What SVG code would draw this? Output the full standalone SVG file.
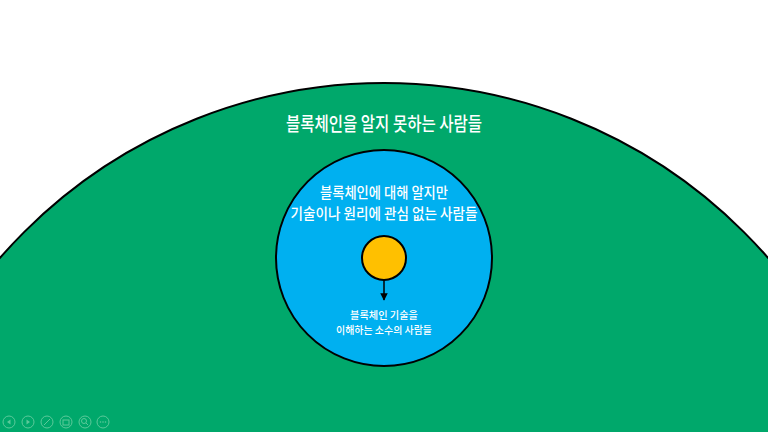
<svg xmlns="http://www.w3.org/2000/svg" width="768" height="432" viewBox="0 0 768 432">
<style>
.t{font-family:"Noto Sans CJK KR","Noto Sans",sans-serif;fill:#ffffff;text-anchor:middle;font-weight:500}
.ic{fill:none;stroke:#5cc99a;stroke-width:1}
</style>
<defs>
<marker id="ah" viewBox="0 0 10 10" refX="9" refY="5" markerWidth="5" markerHeight="5" orient="auto" markerUnits="strokeWidth">
<path d="M0,0 L10,5 L0,10 z" fill="#000"/>
</marker>
</defs>
<rect width="768" height="432" fill="#ffffff"/>
<g id="outer">
<circle cx="384" cy="592" r="509" fill="#00A86B" stroke="#000" stroke-width="2"/>
<text class="t" x="384" y="131" font-size="19" textLength="196" lengthAdjust="spacingAndGlyphs">블록체인을 알지 못하는 사람들</text>
</g>
<g id="middle">
<circle cx="384" cy="258" r="108" fill="#00B0F0" stroke="#000" stroke-width="2"/>
<text class="t" x="384" y="198" font-size="14.5" textLength="128" lengthAdjust="spacingAndGlyphs">블록체인에 대해 알지만</text>
<text class="t" x="384" y="219" font-size="14.5" textLength="187" lengthAdjust="spacingAndGlyphs">기술이나 원리에 관심 없는 사람들</text>
</g>
<g id="inner">
<circle cx="384" cy="258" r="22" fill="#FFC000" stroke="#000" stroke-width="2"/>
</g>
<g id="connectors">
<line x1="384" y1="280" x2="384" y2="300" stroke="#000" stroke-width="1.5" marker-end="url(#ah)"/>
</g>
<g id="label">
<text class="t" x="384" y="319" font-size="10.5" textLength="68" lengthAdjust="spacingAndGlyphs">블록체인 기술을</text>
<text class="t" x="384" y="334" font-size="10.5" textLength="96" lengthAdjust="spacingAndGlyphs">이해하는 소수의 사람들</text>
</g>
<g id="toolbar">
<circle class="ic" cx="9" cy="422" r="6"/><path d="M10.5,419.5 L7,422 L10.5,424.5z" fill="#5cc99a"/>
<circle class="ic" cx="28" cy="422" r="6"/><path d="M26.5,419.5 L30,422 L26.5,424.5z" fill="#5cc99a"/>
<circle class="ic" cx="47" cy="422" r="6"/><line class="ic" x1="44" y1="425" x2="50" y2="419"/>
<circle class="ic" cx="66" cy="422" r="6"/><rect class="ic" x="63" y="420" width="6" height="5"/>
<circle class="ic" cx="85" cy="422" r="6"/><circle class="ic" cx="84" cy="421" r="2.5"/><line class="ic" x1="86" y1="423" x2="88" y2="425"/>
<circle class="ic" cx="103" cy="422" r="6"/><circle cx="100.5" cy="422" r="0.8" fill="#5cc99a"/><circle cx="103" cy="422" r="0.8" fill="#5cc99a"/><circle cx="105.5" cy="422" r="0.8" fill="#5cc99a"/>
</g>
</svg>
